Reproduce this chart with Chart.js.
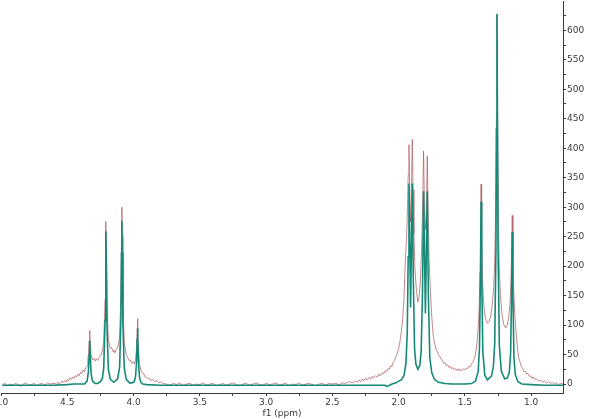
<!DOCTYPE html>
<html>
<head>
<meta charset="utf-8">
<script src="https://cdn.jsdelivr.net/npm/chart.js@4"></script>
<style>
html,body{margin:0;padding:0;background:#fff;overflow:hidden;width:600px;height:419px;}
#wrap{position:absolute;left:-20px;top:-5px;width:620px;height:424px;}
</style>
</head>
<body>
<div id="wrap"><canvas id="nmr" width="620" height="424"></canvas></div>
<script>
// fitted spectrum (teal): [ppm, intensity]
const fitCurve=[
  [4.99,-2],[4.9,-2],[4.8,-2],[4.7,-2],[4.6,-2],[4.5,-1],[4.45,0],[4.4,0],[4.37,0],[4.35,5],
  [4.34,22],[4.335,50],[4.331,74],[4.327,50],[4.32,17],[4.31,5],[4.29,1],[4.27,1],[4.25,4],[4.235,10],
  [4.225,27],[4.215,108],[4.211,208],[4.208,259],[4.205,208],[4.2,93],[4.19,25],[4.175,8],[4.148,3],[4.12,9],
  [4.105,29],[4.095,116],[4.091,222],[4.088,277],[4.085,222],[4.08,99],[4.07,27],[4.055,8],[4.03,2],[4.01,2],
  [3.995,4],[3.985,12],[3.977,39],[3.973,76],[3.97,95],[3.967,76],[3.962,33],[3.955,11],[3.945,3],[3.93,0],
  [3.9,-1],[3.8,-2],[3.5,-2],[3.0,-2],[2.5,-2],[2.2,-2],[2.1,-2],[2.09,-4],[2.075,-3],[2.05,0],
  [2.02,2],[2.0,5],[1.98,7],[1.96,14],[1.945,35],[1.935,87],[1.928,216],[1.922,340],[1.91,130],[1.897,340],
  [1.89,185],[1.88,61],[1.87,34],[1.855,25],[1.84,32],[1.83,56],[1.82,156],[1.812,327],[1.798,120],[1.784,327],
  [1.776,153],[1.765,45],[1.75,19],[1.73,8],[1.7,3],[1.65,1],[1.6,0],[1.5,0],[1.45,1],[1.42,5],
  [1.4,21],[1.39,62],[1.383,182],[1.378,309],[1.373,184],[1.365,55],[1.35,15],[1.33,7],[1.318,10],[1.3,13],
  [1.285,30],[1.275,70],[1.266,226],[1.262,433],[1.258,628],[1.254,433],[1.25,227],[1.24,64],[1.225,21],[1.2,9],
  [1.18,10],[1.165,20],[1.155,54],[1.148,153],[1.143,258],[1.138,152],[1.13,45],[1.12,16],[1.1,4],[1.07,0],
  [1.0,-1],[0.9,-2],[0.76,-2]
];

// measured spectrum (red): [ppm, intensity]
const expCurve=[
  [4.99,-1],[4.97,1],[4.95,-3],[4.93,0],[4.91,-2],[4.89,1],[4.87,-1],[4.85,-4],[4.83,0],[4.81,2],
  [4.79,-2],[4.77,-1],[4.75,1],[4.73,-3],[4.71,0],[4.69,1],[4.67,-2],[4.65,2],[4.63,0],[4.61,1],
  [4.59,1],[4.58,-1],[4.57,3],[4.56,0],[4.55,2],[4.54,5],[4.53,3],[4.52,6],[4.51,3],[4.5,8],
  [4.49,5],[4.48,10],[4.47,8],[4.46,12],[4.45,9],[4.44,14],[4.43,12],[4.42,17],[4.41,14],[4.4,20],
  [4.39,18],[4.38,24],[4.37,21],[4.36,28],[4.35,30],[4.345,42],[4.34,50],[4.335,73],[4.331,91],[4.327,73],
  [4.32,49],[4.31,41],[4.3,44],[4.29,39],[4.28,43],[4.27,40],[4.26,45],[4.25,47],[4.235,56],[4.225,72],
  [4.215,144],[4.211,231],[4.208,276],[4.205,231],[4.2,132],[4.19,75],[4.175,60],[4.165,62],[4.155,55],[4.148,57],
  [4.14,53],[4.13,60],[4.12,61],[4.105,78],[4.095,155],[4.091,250],[4.088,300],[4.085,250],[4.08,138],[4.07,70],
  [4.055,50],[4.045,45],[4.035,40],[4.025,41],[4.015,35],[4.005,38],[3.995,34],[3.985,40],[3.977,62],[3.973,94],
  [3.97,111],[3.967,94],[3.962,55],[3.955,33],[3.945,24],[3.935,19],[3.925,18],[3.915,13],[3.905,12],[3.895,9],
  [3.885,10],[3.87,6],[3.855,8],[3.84,4],[3.825,6],[3.81,2],[3.795,4],[3.78,1],
  [3.75,0],[3.725,-2],[3.7,1],[3.675,-1],[3.65,2],[3.625,-3],[3.6,0],[3.575,1],[3.55,-2],[3.525,0],
  [3.5,-1],[3.475,2],[3.45,-2],[3.425,0],[3.4,1],[3.375,-3],[3.35,-1],[3.325,1],[3.3,-2],[3.275,0],
  [3.25,2],[3.225,-1],[3.2,-3],[3.175,0],[3.15,1],[3.125,-2],[3.1,0],[3.075,2],[3.05,-1],[3.025,-2],
  [3.0,1],[2.975,-1],[2.95,0],[2.925,2],[2.9,-2],[2.875,0],[2.85,1],[2.825,-3],[2.8,0],[2.775,-1],
  [2.75,2],[2.725,-2],[2.7,0],[2.675,1],[2.65,-1],[2.625,-3],[2.6,0],[2.575,1],[2.55,-2],[2.525,1],
  [2.5,0],[2.475,1],[2.45,-1],[2.425,2],[2.4,1],[2.375,4],[2.35,2],[2.325,5],[2.31,3],[2.3,7],
  [2.285,4],[2.275,8],[2.26,6],[2.25,10],[2.235,7],[2.225,11],[2.21,9],[2.2,13],[2.19,10],[2.175,14],
  [2.16,12],[2.15,17],[2.14,14],[2.125,19],[2.11,18],[2.1,23],[2.09,21],[2.08,26],[2.07,25],[2.06,31],
  [2.05,30],[2.04,37],[2.03,40],[2.02,47],[2.01,52],[2.0,60],[1.99,72],[1.98,88],[1.97,110],[1.96,145],
  [1.95,205],[1.94,250],[1.933,300],[1.928,355],[1.922,406],[1.916,320],[1.91,275],[1.904,320],[1.897,415],[1.891,330],
  [1.885,255],[1.877,195],[1.867,162],[1.855,139],[1.845,148],[1.835,178],[1.826,235],[1.819,300],[1.812,395],[1.805,295],
  [1.798,262],[1.791,295],[1.784,387],[1.777,285],[1.77,210],[1.76,155],[1.75,115],[1.74,84],[1.73,70],[1.72,61],
  [1.71,56],[1.7,50],[1.69,47],[1.68,42],[1.67,40],[1.66,35],[1.65,36],[1.64,31],[1.63,33],[1.62,28],
  [1.61,30],[1.6,26],[1.59,28],[1.58,24],[1.57,26],[1.56,23],[1.55,26],[1.54,22],[1.53,25],[1.52,23],
  [1.51,26],[1.5,24],[1.49,27],[1.48,26],[1.47,30],[1.46,29],[1.45,34],[1.44,37],[1.43,42],[1.42,51],
  [1.41,68],[1.4,95],[1.392,130],[1.386,190],[1.382,260],[1.378,339],[1.374,260],[1.369,190],[1.362,150],[1.355,128],
  [1.345,112],[1.33,103],[1.318,106],[1.305,115],[1.293,135],[1.283,165],[1.275,210],[1.268,290],[1.262,460],[1.258,625],
  [1.254,460],[1.248,290],[1.241,200],[1.232,150],[1.22,118],[1.207,101],[1.193,95],[1.18,100],[1.17,112],[1.16,135],
  [1.153,170],[1.148,220],[1.143,286],[1.138,215],[1.132,160],[1.124,120],[1.115,90],[1.105,65],[1.095,45],[1.085,38],
  [1.075,30],[1.065,27],[1.055,21],[1.045,22],[1.035,17],[1.025,18],[1.015,13],[1.005,14],[0.995,10],[0.985,12],
  [0.975,8],[0.96,9],[0.945,5],[0.93,7],[0.915,3],[0.9,5],[0.885,2],[0.87,4],[0.855,1],[0.84,3],
  [0.825,0],[0.81,2],[0.795,-1],[0.78,1],[0.76,0]
];

const ppmRange=[0.76,5.0];
const intRange=[-15.2,649];
const xTitle='f1 (ppm)';

const axisColor='#3a3a3a';
const tickFont={family:'DejaVu Sans',size:9};

function toXY(pts){return pts.map(p=>({x:p[0],y:p[1]}));}

new Chart(document.getElementById('nmr'),{
  type:'line',
  data:{datasets:[
    {label:'fit',data:toXY(fitCurve),borderColor:'#168a78',borderWidth:1.6,pointRadius:0,tension:0,order:0},
    {label:'measured',data:toXY(expCurve),borderColor:'rgba(176,96,102,0.75)',borderWidth:1,pointRadius:0,tension:0,order:1}
  ]},
  options:{
    responsive:false,animation:false,devicePixelRatio:1,
    layout:{padding:{left:21,top:0,right:0,bottom:0}},
    plugins:{legend:{display:false},tooltip:{enabled:false}},
    scales:{
      x:{
        type:'linear',position:'bottom',reverse:true,min:ppmRange[0],max:ppmRange[1],
        ticks:{stepSize:0.25,includeBounds:false,autoSkip:false,maxRotation:0,padding:1,color:axisColor,font:tickFont,
          callback:v=>Math.abs(v*2-Math.round(v*2))<1e-6?v.toFixed(1):''},
        grid:{drawOnChartArea:false,drawTicks:true,tickLength:3,color:axisColor},
        border:{display:true,color:axisColor,width:1},
        title:{display:true,text:xTitle,color:axisColor,font:tickFont,padding:{top:0,bottom:0}},
        afterFit:s=>{s.height=26;}
      },
      y:{
        type:'linear',position:'right',min:intRange[0],max:intRange[1],
        ticks:{stepSize:25,includeBounds:false,autoSkip:false,padding:1,color:axisColor,font:tickFont,
          callback:v=>v%50===0?String(v):''},
        grid:{drawOnChartArea:false,drawTicks:true,tickLength:3,color:axisColor},
        border:{display:true,color:axisColor,width:1},
        afterFit:s=>{s.width=37;}
      }
    }
  }
});
</script>
</body>
</html>
